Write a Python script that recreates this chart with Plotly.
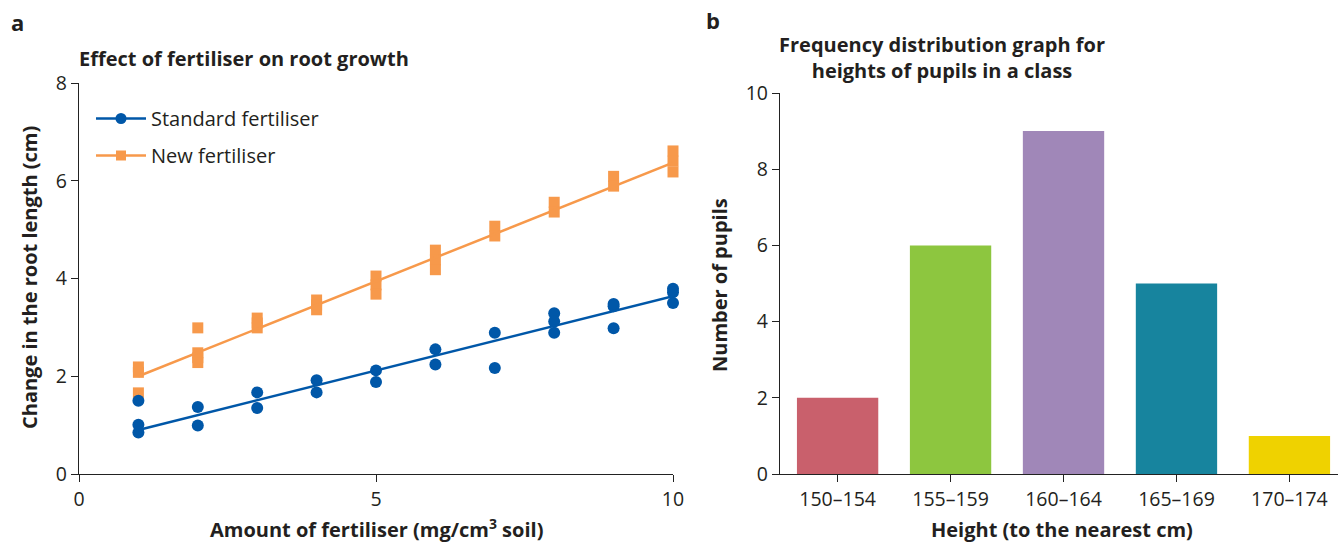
import plotly.graph_objects as go

# ---------- Panel a data ----------
std_x = [1, 1, 1, 2, 2, 3, 3, 4, 4, 5, 5, 6, 6, 7, 7, 8, 8, 8, 9, 9, 9, 10, 10, 10]
std_y = [1.50, 1.01, 0.85, 1.37, 0.99, 1.67, 1.35, 1.92, 1.67, 2.12, 1.88, 2.55, 2.24,
         2.89, 2.17, 3.29, 3.12, 2.89, 3.48, 3.43, 2.98, 3.79, 3.72, 3.50]
new_x = [1, 1, 1, 2, 2, 2, 2, 3, 3, 3, 4, 4, 4, 5, 5, 5, 6, 6, 6, 7, 7, 8, 8, 9, 9, 10, 10, 10]
new_y = [2.19, 2.08, 1.66, 2.99, 2.48, 2.38, 2.28, 3.19, 3.09, 2.99, 3.56, 3.46, 3.36,
         4.05, 3.87, 3.68, 4.58, 4.38, 4.18, 5.07, 4.87, 5.56, 5.36, 6.09, 5.89, 6.61, 6.40, 6.18]
trend_x = [1, 10]
std_trend = [0.90, 3.64]
new_trend = [2.00, 6.37]

# ---------- Panel b data ----------
height_bins = ["150–154", "155–159", "160–164", "165–169", "170–174"]
pupils = [2, 6, 9, 5, 1]
bar_colors = ["#c9606c", "#8dc63f", "#a087b8", "#17849e", "#efd200"]

BLUE = "#0057a8"
ORANGE = "#f7994b"
TXT = "#231f20"
FONT = "Open Sans"

W, H = 1338, 543
def px(x): return x / W
def py(y): return (H - y) / H

fig = go.Figure()

# orange first so blue sits on top
fig.add_trace(go.Scatter(x=new_x, y=new_y, mode="markers", cliponaxis=False,
                         marker=dict(symbol="square", size=11, color=ORANGE),
                         showlegend=False, xaxis="x", yaxis="y"))
fig.add_trace(go.Scatter(x=trend_x, y=new_trend, mode="lines", cliponaxis=False,
                         line=dict(color=ORANGE, width=2.5),
                         showlegend=False, xaxis="x", yaxis="y"))
fig.add_trace(go.Scatter(x=std_x, y=std_y, mode="markers", cliponaxis=False,
                         marker=dict(symbol="circle", size=12, color=BLUE),
                         showlegend=False, xaxis="x", yaxis="y"))
fig.add_trace(go.Scatter(x=trend_x, y=std_trend, mode="lines", cliponaxis=False,
                         line=dict(color=BLUE, width=2.5),
                         showlegend=False, xaxis="x", yaxis="y"))
# legend entries
fig.add_trace(go.Scatter(x=[None], y=[None], mode="lines+markers", name="Standard fertiliser",
                         line=dict(color=BLUE, width=2.5),
                         marker=dict(symbol="circle", size=11, color=BLUE),
                         legendgroup="s", legendrank=1, xaxis="x", yaxis="y"))
fig.add_trace(go.Scatter(x=[None], y=[None], mode="lines+markers", name="New fertiliser",
                         line=dict(color=ORANGE, width=2.5),
                         marker=dict(symbol="square", size=10, color=ORANGE),
                         legendgroup="n", legendrank=2, xaxis="x", yaxis="y"))

fig.add_trace(go.Bar(x=height_bins, y=pupils, marker=dict(color=bar_colors, line=dict(width=0)),
                     showlegend=False, xaxis="x2", yaxis="y2"))

axis_common = dict(showline=True, linecolor="#222", linewidth=1.3, ticks="outside",
                   ticklen=7, tickcolor="#222", tickwidth=1.3, showgrid=False, zeroline=False,
                   automargin=False,
                   tickfont=dict(family=FONT, size=19.5, color=TXT))

fig.update_layout(
    width=W, height=H,
    margin=dict(l=0, r=0, t=0, b=0, autoexpand=False),
    paper_bgcolor="white", plot_bgcolor="white",
    font=dict(family=FONT, color=TXT),
    bargap=0.28,
    xaxis=dict(domain=[px(79), px(673)], range=[0, 10], tickvals=[0, 5, 10],
               anchor="y", **axis_common),
    yaxis=dict(domain=[py(474), py(83)], range=[0, 8], tickvals=[0, 2, 4, 6, 8],
               anchor="x", **axis_common),
    xaxis2=dict(domain=[px(780), 1.0], range=[-0.51, 4.43], anchor="y2", **axis_common),
    yaxis2=dict(domain=[py(474), py(93)], range=[0, 10], tickvals=[0, 2, 4, 6, 8, 10],
                anchor="x2", **axis_common),
    legend=dict(x=px(91), y=py(99), xanchor="left", yanchor="top",
                font=dict(family=FONT, size=20, color=TXT),
                bgcolor="rgba(0,0,0,0)", traceorder="grouped", tracegroupgap=8,
                itemwidth=50),
)

ann_font_b = dict(family=FONT, size=20, color=TXT)
anns = [
    dict(text="<b>a</b>", x=px(9), y=py(22), xanchor="left", yanchor="middle",
         font=dict(family=FONT, size=22, color=TXT)),
    dict(text="<b>b</b>", x=px(704), y=py(20), xanchor="left", yanchor="middle",
         font=dict(family=FONT, size=22, color=TXT)),
    dict(text="<b>Effect of fertiliser on root growth</b>", x=px(77), y=py(59),
         xanchor="left", yanchor="middle", font=ann_font_b),
    dict(text="<b>Frequency distribution graph for<br>heights of pupils in a class</b>",
         x=px(942), y=py(58), xanchor="center", yanchor="middle", font=ann_font_b),
    dict(text="<b>Amount of fertiliser (mg/cm<sup>3</sup> soil)</b>", x=px(376), y=py(528),
         xanchor="center", yanchor="middle", font=ann_font_b),
    dict(text="<b>Height (to the nearest cm)</b>", x=px(1062), y=py(529),
         xanchor="center", yanchor="middle", font=ann_font_b),
    dict(text="<b>Change in the root length (cm)</b>", x=px(29), y=py(278), textangle=-90,
         xanchor="center", yanchor="middle", font=ann_font_b),
    dict(text="<b>Number of pupils</b>", x=px(719), y=py(285), textangle=-90,
         xanchor="center", yanchor="middle", font=ann_font_b),
]
for a in anns:
    a.update(xref="paper", yref="paper", showarrow=False)
fig.update_layout(annotations=anns)

fig.write_html("out.html", config={"displayModeBar": False},
               post_script="document.body.style.margin='0';document.body.style.overflow='hidden';")
